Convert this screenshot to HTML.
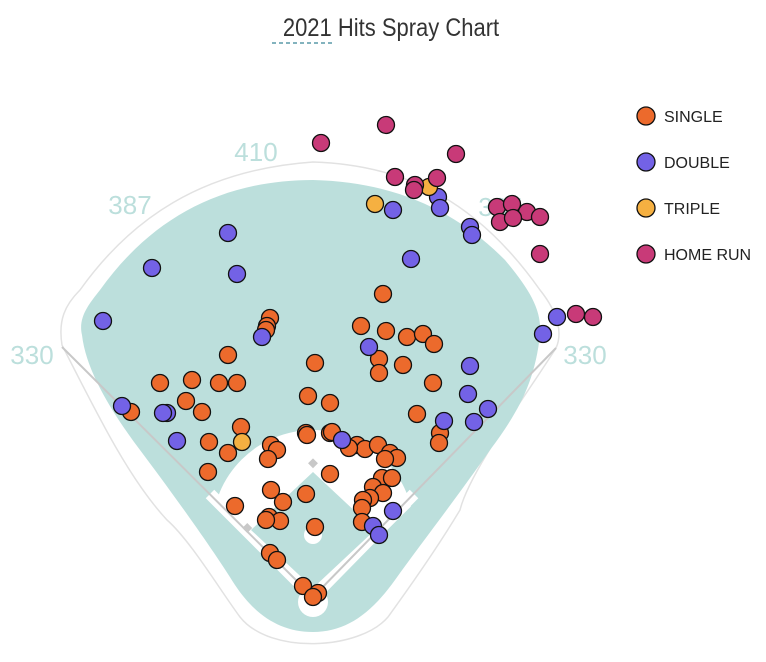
<!DOCTYPE html>
<html><head><meta charset="utf-8"><style>
body{margin:0;background:#fff;width:766px;height:662px;overflow:hidden;font-family:"Liberation Sans",sans-serif}
svg{display:block}
</style></head><body>
<svg id="chart" width="766" height="662" viewBox="0 0 766 662" xmlns="http://www.w3.org/2000/svg">
<defs>
<clipPath id="fair"><path d="M313,603 L40,330 L590,330 Z"/></clipPath>
</defs>
<g>
<text x="391" y="36" text-anchor="middle" font-size="25" fill="#333" transform="translate(391,0) scale(0.88,1) translate(-391,0)" font-family="Liberation Sans, sans-serif">2021 Hits Spray Chart</text>
<line x1="272" y1="43" x2="334" y2="43" stroke="#5a9aa8" stroke-width="1.5" stroke-dasharray="4,3"/>
</g>
<g>
<path d="M62,345 C58,320 65,305 80,290 C130,220 200,170 313,162 C410,165 480,205 540,290 C560,315 562,335 556,348 C530,390 470,470 460,510 C430,560 400,600 388,617 C360,650 270,655 240,617 C220,590 190,540 167,520 C130,480 100,420 62,345 Z" fill="none" stroke="#e2e2e2" stroke-width="1.5"/>
<path d="M82,335 C78,318 88,305 100,290 C150,220 220,180 313,180 C400,182 460,215 505,260 C530,290 542,310 540,335 C535,380 520,410 490,450 C455,500 420,545 395,580 C370,615 345,632 313,632 C280,632 255,615 235,585 C210,545 170,490 140,450 C110,410 86,370 82,335 Z" fill="#bcdfdc"/>
<circle cx="313" cy="531" r="101" fill="#fff" clip-path="url(#fair)"/>
<line x1="313" y1="597" x2="210" y2="494" stroke="#fff" stroke-width="12"/>
<line x1="313" y1="597" x2="414" y2="494" stroke="#fff" stroke-width="12"/>
<path d="M313,472 L375,530 L313,588 L251,530 Z" fill="#bcdfdc"/>
<circle cx="313" cy="535" r="9" fill="#fff"/>
<circle cx="313" cy="602" r="15" fill="#fff"/>
<line x1="313" y1="597" x2="62" y2="347" stroke="#c8c8c8" stroke-width="2"/>
<line x1="313" y1="597" x2="556" y2="348" stroke="#c8c8c8" stroke-width="2"/>
<rect x="309" y="460" width="7" height="7" fill="#c8c8c8" transform="rotate(45 313 464)"/>
<rect x="244" y="525" width="7" height="7" fill="#c8c8c8" transform="rotate(45 248 528)"/>
<rect x="374" y="525" width="7" height="7" fill="#c8c8c8" transform="rotate(45 378 528)"/>
</g>
<g font-size="26" fill="#bcdfdc">
<text x="32" y="364" text-anchor="middle">330</text>
<text x="130" y="214" text-anchor="middle">387</text>
<text x="256" y="161" text-anchor="middle">410</text>
<text x="500" y="216" text-anchor="middle">387</text>
<text x="585" y="364" text-anchor="middle">330</text>
</g>
<g id="hits"></g>
<g font-size="16" fill="#222">
<g><circle cx="646" cy="116" r="9" fill="#ec6a2c" stroke="#111" stroke-width="1.3"/><text x="664" y="122">SINGLE</text></g>
<g><circle cx="646" cy="162" r="9" fill="#7362e6" stroke="#111" stroke-width="1.3"/><text x="664" y="168">DOUBLE</text></g>
<g><circle cx="646" cy="208" r="9" fill="#f5b041" stroke="#111" stroke-width="1.3"/><text x="664" y="214">TRIPLE</text></g>
<g><circle cx="646" cy="254" r="9" fill="#c83a78" stroke="#111" stroke-width="1.3"/><text x="664" y="260">HOME RUN</text></g>
</g>
</svg>
<script>
// coordinates: x = lateral offset from home plate, y = distance toward outfield (plot units)
const singleX=[-43,-46,-47,70,48,73,94,110,121,-85,2,66,90,66,-153,-121,-94,-76,120,-182,-127,-111,-72,-104,-85,-105,-42,-36,-45,-5,17,-7,-6,17,19,44,52,65,36,77,84,72,17,-42,-30,-7,-78,-44,-33,-47,2,69,79,60,70,57,50,49,49,-43,-36,-10,5,0,104,127,126];
const singleY=[279,271,267,303,271,266,260,263,253,242,234,238,232,224,214,217,214,214,214,185,196,185,170,155,144,125,152,147,138,201,194,164,162,164,165,152,148,152,149,144,139,138,123,107,95,103,91,80,76,77,70,119,119,110,104,99,97,89,75,44,37,11,4,0,183,164,154];
const doubleX=[80,125,127,157,159,-85,-161,-76,98,-210,-51,56,244,230,157,-191,-146,-150,-136,29,155,175,131,161,80,60,66];
const doubleY=[387,400,389,370,362,364,329,323,338,276,260,250,280,263,231,191,184,184,156,157,203,188,176,175,86,71,62];
const tripleX=[62,116,-71];
const tripleY=[393,410,155];
const hrX=[8,73,143,82,124,102,101,184,199,214,227,187,200,227,263,280];
const hrY=[454,472,443,420,419,412,407,390,393,385,380,375,379,343,283,280];
const sx=v=>313+v, sy=v=>597-v;
const g=document.getElementById('hits');
const NS='http://www.w3.org/2000/svg';
function drawSeries(xs,ys,color,name){
  for(let i=0;i<xs.length;i++){
    const c=document.createElementNS(NS,'circle');
    c.setAttribute('cx',sx(xs[i]));c.setAttribute('cy',sy(ys[i]));c.setAttribute('r',8.5);
    c.setAttribute('fill',color);c.setAttribute('stroke','#111');c.setAttribute('stroke-width','1.3');
    
    
    g.appendChild(c);
  }
}
drawSeries(singleX,singleY,'#ec6a2c','single-hit');
drawSeries(doubleX,doubleY,'#7362e6','double-hit');
drawSeries(tripleX,tripleY,'#f5b041','triple-hit');
drawSeries(hrX,hrY,'#c83a78','home-run-hit');
</script>
</body></html>
